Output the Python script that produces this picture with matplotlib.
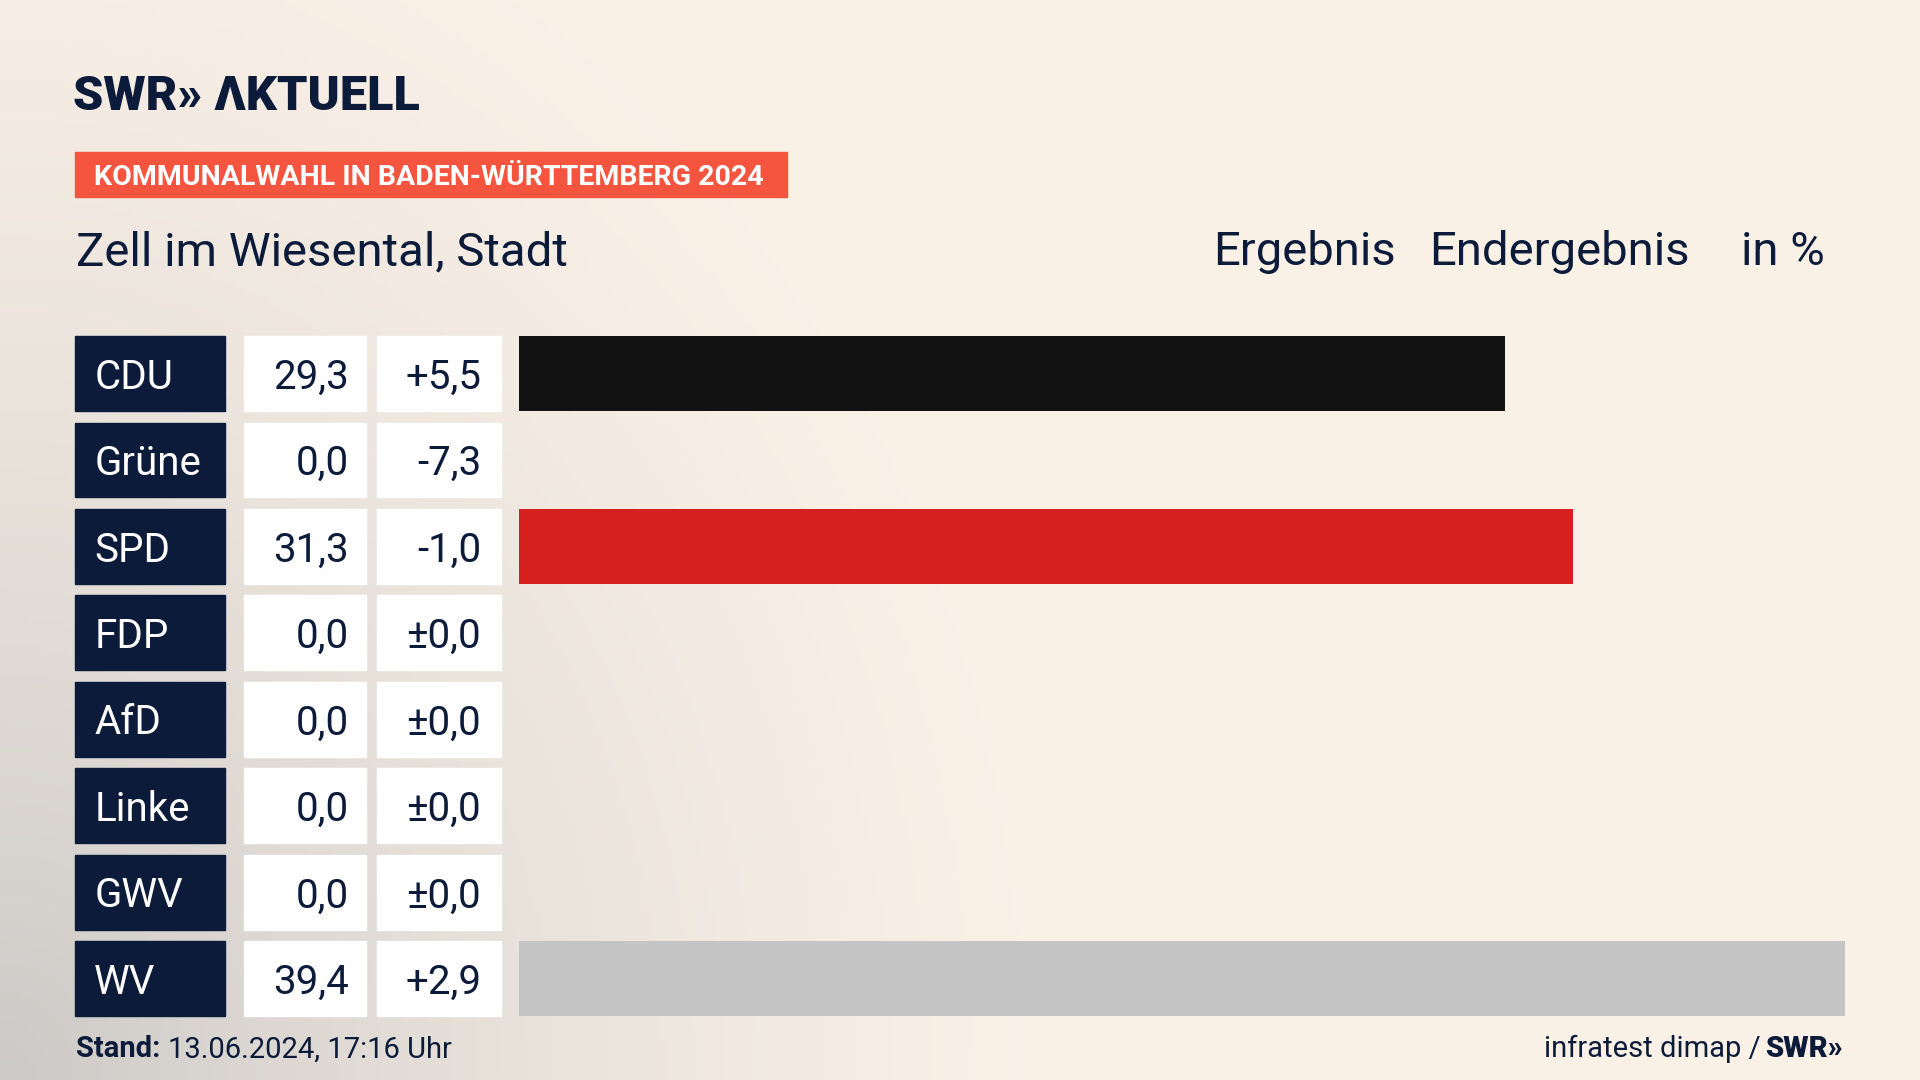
import numpy as np
import matplotlib.pyplot as plt
from matplotlib.patches import Rectangle

parties = ['CDU', 'Grüne', 'SPD', 'FDP', 'AfD', 'Linke', 'GWV', 'WV']
results = [29.3, 0.0, 31.3, 0.0, 0.0, 0.0, 0.0, 39.4]
changes = ['+5,5', '-7,3', '-1,0', '±0,0', '±0,0', '±0,0', '±0,0', '+2,9']
colors = ['#121212', '#4f9a2e', '#d61f1f', '#f5d20f', '#1a8ad6', '#b3246c', '#888888', '#c4c4c4']

NAVY = '#0c1b3a'
W, H = 1568, 882
plt.rcParams['font.family'] = 'Roboto'

fig = plt.figure(figsize=(19.2, 10.8), dpi=100)
ax = fig.add_axes([0, 0, 1, 1])
ax.set_xlim(0, W)
ax.set_ylim(H, 0)
ax.axis('off')

# background: cream with greyish shade bottom-left
yy, xx = np.mgrid[0:H:4, 0:W:4]
d = np.clip(1 - np.hypot(xx / 900.0, (H - yy) / 1100.0), 0, 1)
shade = d ** 1.5
cream = np.array([0.98, 0.945, 0.905])
grey = np.array([0.80, 0.79, 0.78])
img = cream[None, None, :] * (1 - shade[..., None]) + grey[None, None, :] * shade[..., None]
ax.imshow(img, extent=[0, W, H, 0], aspect='auto', zorder=0)

# header
ax.text(60, 79, 'SWR» ΛKTUELL', fontsize=35, fontweight='black', color=NAVY, va='center')
ax.add_patch(Rectangle((61, 124), 582, 37, color='#f5553f', zorder=2))
ax.text(77, 145, 'KOMMUNALWAHL IN BADEN-WÜRTTEMBERG 2024', fontsize=20.5, fontweight='bold',
        color='white', va='center', zorder=3)
ax.text(62, 206, 'Zell im Wiesental, Stadt', fontsize=34, color=NAVY, va='center')
ax.text(1140, 206, 'Ergebnis', fontsize=34, color=NAVY, va='center', ha='right')
ax.text(1380, 206, 'Endergebnis', fontsize=34, color=NAVY, va='center', ha='right')
ax.text(1490, 206, 'in %', fontsize=34, color=NAVY, va='center', ha='right')

# rows
y0, step, bh = 305, 70.6, 61
scale = (1507 - 424) / max(results)
ys = [y0 + i * step for i in range(len(parties))]
ax.barh(ys, [r * scale for r in results], left=424, height=bh, color=colors, zorder=2)
for y, p, r, c in zip(ys, parties, results, changes):
    ax.add_patch(Rectangle((61, y - bh / 2), 123, bh, color=NAVY, zorder=2))
    ax.add_patch(Rectangle((199, y - bh / 2), 100, bh, color='white', zorder=2))
    ax.add_patch(Rectangle((308, y - bh / 2), 101, bh, color='white', zorder=2))
    ax.text(77, y + 3, p, fontsize=29, color='white', va='center', zorder=3)
    ax.text(285, y + 3, f'{r:.1f}'.replace('.', ','), fontsize=29, color=NAVY,
            va='center', ha='right', zorder=3)
    ax.text(393, y + 3, c, fontsize=29, color=NAVY, va='center', ha='right', zorder=3)

# footer
ax.text(62, 857, 'Stand:', fontsize=21, fontweight='bold', color=NAVY, va='center')
ax.text(137, 857, '13.06.2024, 17:16 Uhr', fontsize=21, color=NAVY, va='center')
ax.text(1505, 857, 'SWR»', fontsize=21, fontweight='black', color=NAVY, va='center', ha='right')
ax.text(1438, 857, 'infratest dimap /', fontsize=21, color=NAVY, va='center', ha='right')

fig.savefig('out.png', dpi=100)
